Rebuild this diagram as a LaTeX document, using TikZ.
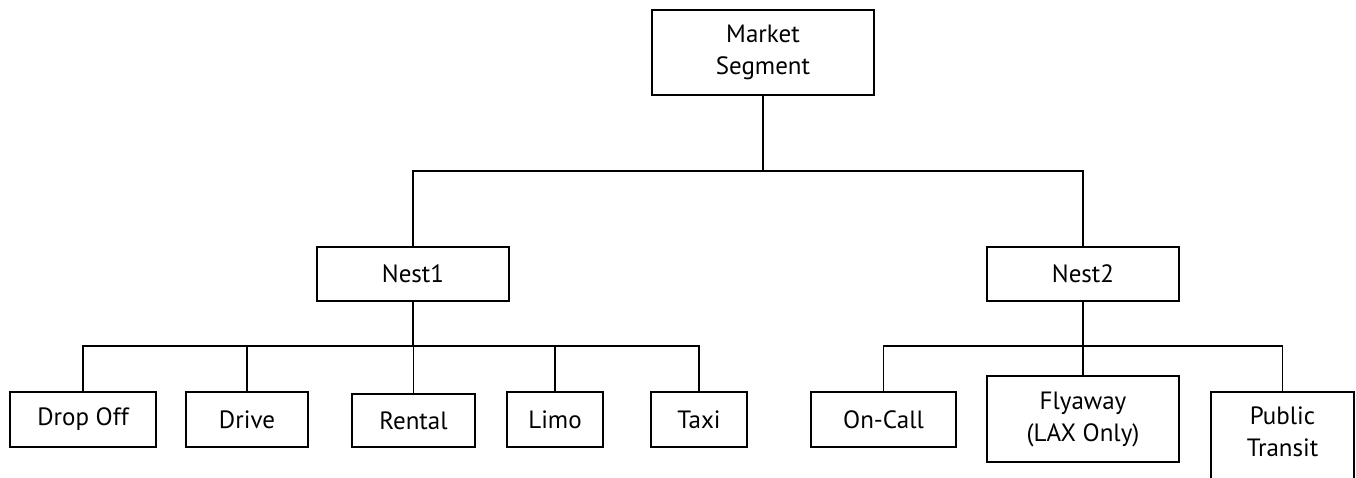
\documentclass[tikz,border=0pt]{standalone}
\usepackage{fontspec}
\setmainfont{PT Sans}
\begin{document}
\begin{tikzpicture}[x=1pt,y=-1pt,
  box/.style={draw,line width=1.3pt,inner sep=0pt,align=center,font=\fontsize{25}{32}\selectfont},
  conn/.style={line width=1.3pt}]
\useasboundingbox (0,0) rectangle (1356,477);
\clip (0,0) rectangle (1356,477);
% top
\node[box,minimum width=222pt,minimum height=85pt] (ms) at (763,52.5) {Market\\Segment};
\node[box,minimum width=192pt,minimum height=54pt] (n1) at (413,274) {Nest1};
\node[box,minimum width=192pt,minimum height=54pt] (n2) at (1083,274) {Nest2};
% leaves
\node[box,minimum width=146pt,minimum height=55pt] (dropoff) at (83,419.5) {Drop Off};
\node[box,minimum width=122pt,minimum height=55pt] (drive) at (247,419.5) {Drive};
\node[box,minimum width=123pt,minimum height=53pt] (rental) at (413.5,420.5) {Rental};
\node[box,minimum width=96pt,minimum height=55pt] (limo) at (555,419.5) {Limo};
\node[box,minimum width=96pt,minimum height=55pt] (taxi) at (699,419.5) {Taxi};
\node[box,minimum width=145pt,minimum height=55pt] (oncall) at (883.5,419.5) {On-Call};
\node[box,minimum width=192pt,minimum height=86pt] (fly) at (1083,419) {Flyaway\\(LAX Only)};
\node[box,minimum width=143pt,minimum height=120pt] (pt) at (1282.5,452) {};
\node[font=\fontsize{25}{32}\selectfont,align=center] (ptlabel) at (1282.5,432) {Public\\Transit};
% connectors
\coordinate (top) at (763,171);
\draw[line width=2pt] (ms.south) -- (top);
\draw[conn] (n1.north) |- (top) -| (n2.north);
\coordinate (j1) at (413,346);
\coordinate (j2) at (1083,346);
\draw[line width=2pt] (n1.south) -- (j1);
\draw[line width=2pt] (n2.south) -- (j2);
\draw[conn] (dropoff.north) |- (j1) -| (taxi.north);
\draw[conn] (drive.north) -- (drive.north |- j1);
\draw[conn] (rental.north) -- (rental.north |- j1);
\draw[conn] (limo.north) -- (limo.north |- j1);
\draw[conn] (oncall.north) |- (j2) -| (pt.north);
\draw[conn] (fly.north) -- (j2);
\end{tikzpicture}
\end{document}
